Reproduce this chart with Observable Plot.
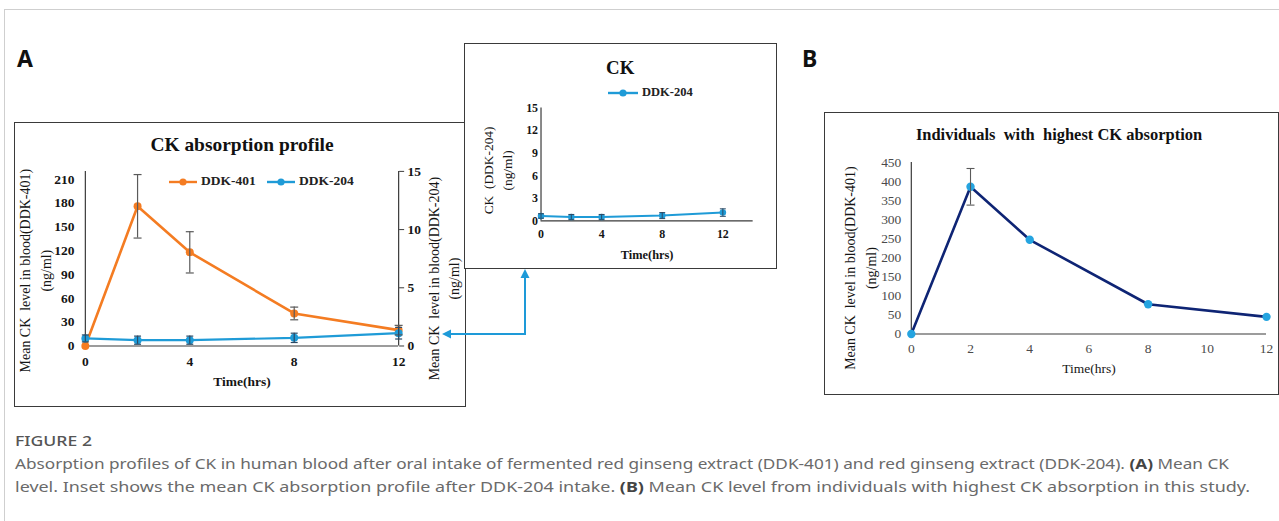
<!DOCTYPE html>
<html>
<head>
<meta charset="utf-8">
<script src="https://cdn.jsdelivr.net/npm/d3@7"></script>
<script src="https://cdn.jsdelivr.net/npm/@observablehq/plot@0.6"></script>
<style>
  html, body { margin: 0; padding: 0; background: #fff; }
  #page { position: relative; width: 1279px; height: 521px; overflow: hidden; background: #fff; }
  .frameline { position: absolute; background: #cfcfcf; }
  .box { position: absolute; border: 1px solid #3a3a3a; background: #fff; box-sizing: border-box; }
  .box > svg, .box > figure { position: absolute; left: 0; top: 0; }
  .panel-label { position: absolute; font-family: "Noto Sans", sans-serif; font-weight: 700; font-size: 23px; color: #111; line-height: 1; }
  .legend { position: absolute; font-family: "Liberation Serif", serif; font-weight: 700; color: #222; white-space: nowrap; }
  .legend svg { vertical-align: middle; }
</style>
</head>
<body>
<div id="page">
  <div class="frameline" style="left:4px; top:9px; width:1275px; height:1px;"></div>
  <div class="frameline" style="left:4px; top:9px; width:1px; height:512px;"></div>
  <div class="panel-label" style="left:17px; top:47px;">A</div>
  <div class="panel-label" style="left:802px; top:47px;">B</div>
  <div class="box" id="boxA" style="left:14px; top:122px; width:452px; height:285px;"></div>
  <div class="box" id="boxInset" style="left:464px; top:43px; width:313px; height:226px;"></div>
  <div class="box" id="boxB" style="left:824px; top:112px; width:455px; height:283px;"></div>
  <svg id="arrow" style="position:absolute; left:0; top:0; pointer-events:none;" width="1279" height="521">
    <path d="M525,277 L525,334 L450,334" fill="none" stroke="#1e9ad8" stroke-width="2"/>
    <polygon points="525,269 520.5,278 529.5,278" fill="#1e9ad8"/>
    <polygon points="442,334 451,329.5 451,338.5" fill="#1e9ad8"/>
  </svg>
  <svg id="caption" style="position:absolute; left:0; top:420px;" width="1279" height="100"></svg>
</div>
<script>
// ---------------- data ----------------
const time = [0, 2, 4, 8, 12];
const ddk401Mean = [0, 176, 118, 41, 20];
const ddk401Err = [0, 40, 26, 8, 6];
const ddk204Mean = [0.65, 0.5, 0.5, 0.7, 1.1];
const ddk204Err = [0.3, 0.35, 0.35, 0.4, 0.5];
const highMean = [0, 386, 247, 78, 45];
const highErr = [0, 48, 0, 0, 0];

const xTicksA = [0, 4, 8, 12];
const leftTicksA = [0, 30, 60, 90, 120, 150, 180, 210];
const rightTicksA = [0, 5, 10, 15];
const insetYTicks = [0, 3, 6, 9, 12, 15];
const insetXTicks = [0, 4, 8, 12];
const bYTicks = [0, 50, 100, 150, 200, 250, 300, 350, 400, 450];
const bXTicks = [0, 2, 4, 6, 8, 10, 12];

const seriesNames = ["DDK-401", "DDK-204"];
const titleA = "CK absorption profile";
const titleInset = "CK";
const titleB = "Individuals  with  highest CK absorption";
const yLabelA = "Mean CK  level in blood(DDK-401)\n(ng/ml)";
const yLabelA2 = "Mean CK  level in blood(DDK-204)\n(ng/ml)";
const yLabelInset = "CK  (DDK-204)\n(ng/ml)";
const yLabelB = "Mean CK  level in blood(DDK-401)\n(ng/ml)";
const xLabel = "Time(hrs)";

const orange = "#f47c22";
const blue = "#1f9bd7";
const navy = "#0e2474";
const markerB = "#25a4e0";
const errColor = "#5a5a5a";
const axisColor = "#3a3a3a";

// horizontal cap symbol for error bars
const capSymbol = {
  draw(context, size) {
    const r = Math.sqrt(size / Math.PI);
    context.moveTo(-r, 0);
    context.lineTo(r, 0);
  }
};

const serif = "'Liberation Serif', 'Times New Roman', serif";
const mid = { textAnchor: "middle", lineAnchor: "middle" };

// ---------------- Panel A ----------------
const k = 220 / 15; // right axis (0-15) mapped onto left axis (0-220)
const rowsA = time.map((t, i) => ({
  t, a: ddk401Mean[i], ae: ddk401Err[i], b: ddk204Mean[i] * k, be: ddk204Err[i] * k
}));
const errA = rowsA.filter(d => d.ae > 0);

const plotA = Plot.plot({
  width: 451, height: 284,
  marginLeft: 70, marginRight: 67, marginTop: 48, marginBottom: 61,
  style: { fontFamily: serif, fontSize: "13.5px", color: "#151515", background: "transparent", overflow: "visible" },
  x: { domain: [0, 12] },
  y: { domain: [0, 220] },
  marks: [
    Plot.ruleY([0], { stroke: axisColor, strokeWidth: 1.2 }),
    Plot.ruleX([0], { stroke: axisColor, strokeWidth: 1.2 }),
    Plot.ruleX([12], { stroke: axisColor, strokeWidth: 1.2 }),
    Plot.axisX({ ticks: xTicksA, tickSize: 0, tickPadding: 10, fontWeight: "bold", label: null }),
    Plot.axisY({ ticks: leftTicksA, tickSize: 0, tickPadding: 11, fontWeight: "bold", label: null }),
    Plot.axisY({ anchor: "right", ticks: rightTicksA.map(v => v * k), tickFormat: d => String(Math.round(d / k)),
      tickSize: 5, tickPadding: 4, fontWeight: "bold", label: null, stroke: axisColor }),
    Plot.line(rowsA, { x: "t", y: "a", stroke: orange, strokeWidth: 2.6 }),
    Plot.line(rowsA, { x: "t", y: "b", stroke: blue, strokeWidth: 2.2 }),
    Plot.dot(rowsA, { x: "t", y: "a", r: 4, fill: orange }),
    Plot.dot(rowsA, { x: "t", y: "b", r: 4, fill: blue }),
    Plot.ruleX(errA, { x: "t", y1: d => d.a - d.ae, y2: d => d.a + d.ae, stroke: errColor, strokeWidth: 1.2 }),
    Plot.dot(errA, { x: "t", y: d => d.a + d.ae, symbol: capSymbol, r: 4, stroke: errColor, strokeWidth: 1.2 }),
    Plot.dot(errA, { x: "t", y: d => d.a - d.ae, symbol: capSymbol, r: 4, stroke: errColor, strokeWidth: 1.2 }),
    Plot.ruleX(rowsA, { x: "t", y1: d => d.b - d.be, y2: d => d.b + d.be, stroke: "#2a4a66", strokeWidth: 1.2 }),
    Plot.dot(rowsA, { x: "t", y: d => d.b + d.be, symbol: capSymbol, r: 3.5, stroke: "#2a4a66", strokeWidth: 1.2 }),
    Plot.dot(rowsA, { x: "t", y: d => d.b - d.be, symbol: capSymbol, r: 3.5, stroke: "#2a4a66", strokeWidth: 1.2 }),
    Plot.text([titleA], { text: d => d, frameAnchor: "top", dy: -27, ...mid, fontWeight: "bold", fontSize: 19.5, fill: "#111" }),
    Plot.text([yLabelA], { text: d => d, frameAnchor: "left", rotate: -90, dx: -52, dy: 12, ...mid, lineHeight: 1.5, fontSize: 14, fill: "#151515" }),
    Plot.text([yLabelA2], { text: d => d, frameAnchor: "right", rotate: -90, dx: 44, dy: 20, ...mid, lineHeight: 1.45, fontSize: 14, fill: "#151515" }),
    Plot.text([xLabel], { text: d => d, frameAnchor: "bottom", dy: 36, ...mid, fontWeight: "bold", fontSize: 13.5, fill: "#151515" })
  ]
});
document.getElementById("boxA").appendChild(plotA);

// ---------------- Inset ----------------
const rowsI = time.map((t, i) => ({ t, b: ddk204Mean[i], be: ddk204Err[i] }));
const plotI = Plot.plot({
  width: 313, height: 225,
  marginLeft: 76, marginRight: 23.5, marginTop: 64, marginBottom: 47.5,
  style: { fontFamily: serif, fontSize: "12px", color: "#151515", background: "transparent", overflow: "visible" },
  x: { domain: [0, 14] },
  y: { domain: [0, 15] },
  marks: [
    Plot.ruleY([0], { stroke: axisColor, strokeWidth: 1.2 }),
    Plot.ruleX([0], { stroke: axisColor, strokeWidth: 1.2 }),
    Plot.axisX({ ticks: insetXTicks, tickSize: 0, tickPadding: 9, fontWeight: "bold", label: null }),
    Plot.axisY({ ticks: insetYTicks, tickSize: 0, tickPadding: 3, fontWeight: "bold", label: null }),
    Plot.line(rowsI, { x: "t", y: "b", stroke: blue, strokeWidth: 2 }),
    Plot.dot(rowsI, { x: "t", y: "b", r: 3.3, fill: blue }),
    Plot.ruleX(rowsI, { x: "t", y1: d => d.b - d.be, y2: d => d.b + d.be, stroke: "#2a4a66", strokeWidth: 1 }),
    Plot.dot(rowsI, { x: "t", y: d => d.b + d.be, symbol: capSymbol, r: 3, stroke: "#2a4a66", strokeWidth: 1 }),
    Plot.dot(rowsI, { x: "t", y: d => d.b - d.be, symbol: capSymbol, r: 3, stroke: "#2a4a66", strokeWidth: 1 }),
    Plot.text([titleInset], { text: d => d, frameAnchor: "top", dx: -27, dy: -40, ...mid, fontWeight: "bold", fontSize: 19, fill: "#111" }),
    Plot.text([yLabelInset], { text: d => d, frameAnchor: "left", rotate: -90, dx: -44.5, dy: 6, ...mid, lineHeight: 1.4, fontSize: 13.5, fill: "#151515" }),
    Plot.text([xLabel], { text: d => d, frameAnchor: "bottom", dy: 34.5, ...mid, fontWeight: "bold", fontSize: 12.5, fill: "#151515" })
  ]
});
document.getElementById("boxInset").appendChild(plotI);

// ---------------- Panel B ----------------
const rowsB = time.map((t, i) => ({ t, v: highMean[i], e: highErr[i] }));
const errB = rowsB.filter(d => d.e > 0);
const plotB = Plot.plot({
  width: 454, height: 282,
  marginLeft: 86, marginRight: 12, marginTop: 49, marginBottom: 61,
  style: { fontFamily: serif, fontSize: "13.5px", color: "#4a4a4a", background: "transparent", overflow: "visible" },
  x: { domain: [0, 12] },
  y: { domain: [0, 450] },
  marks: [
    Plot.ruleY([0], { stroke: axisColor, strokeWidth: 1.2 }),
    Plot.ruleX([0], { stroke: axisColor, strokeWidth: 1.2 }),
    Plot.axisX({ ticks: bXTicks, tickSize: 0, tickPadding: 9, label: null }),
    Plot.axisY({ ticks: bYTicks, tickSize: 0, tickPadding: 10, label: null }),
    Plot.line(rowsB, { x: "t", y: "v", stroke: navy, strokeWidth: 2.6 }),
    Plot.dot(rowsB, { x: "t", y: "v", r: 4.2, fill: markerB }),
    Plot.ruleX(errB, { x: "t", y1: d => d.v - d.e, y2: d => d.v + d.e, stroke: errColor, strokeWidth: 1.1 }),
    Plot.dot(errB, { x: "t", y: d => d.v + d.e, symbol: capSymbol, r: 4, stroke: errColor, strokeWidth: 1.1 }),
    Plot.dot(errB, { x: "t", y: d => d.v - d.e, symbol: capSymbol, r: 4, stroke: errColor, strokeWidth: 1.1 }),
    Plot.text([titleB], { text: d => d, frameAnchor: "top", dx: -30, dy: -28, ...mid, fontWeight: "bold", fontSize: 16.5, fill: "#111" }),
    Plot.text([yLabelB], { text: d => d, frameAnchor: "left", rotate: -90, dx: -52.5, dy: 20, ...mid, lineHeight: 1.5, fontSize: 14, fill: "#151515" }),
    Plot.text([xLabel], { text: d => d, frameAnchor: "bottom", dy: 35, ...mid, fontSize: 13.5, fill: "#151515" })
  ]
});
document.getElementById("boxB").appendChild(plotB);

// ---------------- Legends ----------------
function legendItem(color, label, left, top, fontSize, lineW) {
  const div = document.createElement("div");
  div.className = "legend";
  div.style.left = left + "px";
  div.style.top = top + "px";
  div.style.fontSize = fontSize + "px";
  div.style.lineHeight = "14px";
  div.innerHTML = `<svg width="${lineW}" height="10"><line x1="0" x2="${lineW}" y1="5" y2="5" stroke="${color}" stroke-width="2.4"/><circle cx="${lineW / 2}" cy="5" r="3.6" fill="${color}"/></svg><span style="margin-left:4px">${label}</span>`;
  document.getElementById("page").appendChild(div);
}
legendItem(orange, seriesNames[0], 169, 174, 13.5, 28);
legendItem(blue, seriesNames[1], 267, 174, 13.5, 28);
legendItem(blue, seriesNames[1], 608, 85, 12.5, 30);

// ---------------- Caption ----------------
const cap = d3.select("#caption");
cap.append("text").attr("x", 15).attr("y", 26).attr("textLength", 77).attr("lengthAdjust", "spacingAndGlyphs")
  .attr("font-family", "'Noto Sans', sans-serif").attr("font-size", 15).attr("font-weight", 500).attr("fill", "#555")
  .text("FIGURE 2");
const line1 = cap.append("text").attr("x", 15).attr("y", 49).attr("textLength", 1214).attr("lengthAdjust", "spacingAndGlyphs")
  .attr("font-family", "'Noto Sans', sans-serif").attr("font-size", 14).attr("fill", "#6a6a6a");
line1.append("tspan").text("Absorption profiles of CK in human blood after oral intake of fermented red ginseng extract (DDK-401) and red ginseng extract (DDK-204). ");
line1.append("tspan").attr("font-weight", 700).attr("fill", "#444").text("(A)");
line1.append("tspan").text(" Mean CK");
const line2 = cap.append("text").attr("x", 15).attr("y", 72).attr("textLength", 1235).attr("lengthAdjust", "spacingAndGlyphs")
  .attr("font-family", "'Noto Sans', sans-serif").attr("font-size", 14).attr("fill", "#6a6a6a");
line2.append("tspan").text("level. Inset shows the mean CK absorption profile after DDK-204 intake. ");
line2.append("tspan").attr("font-weight", 700).attr("fill", "#444").text("(B)");
line2.append("tspan").text(" Mean CK level from individuals with highest CK absorption in this study.");
</script>
</body>
</html>
